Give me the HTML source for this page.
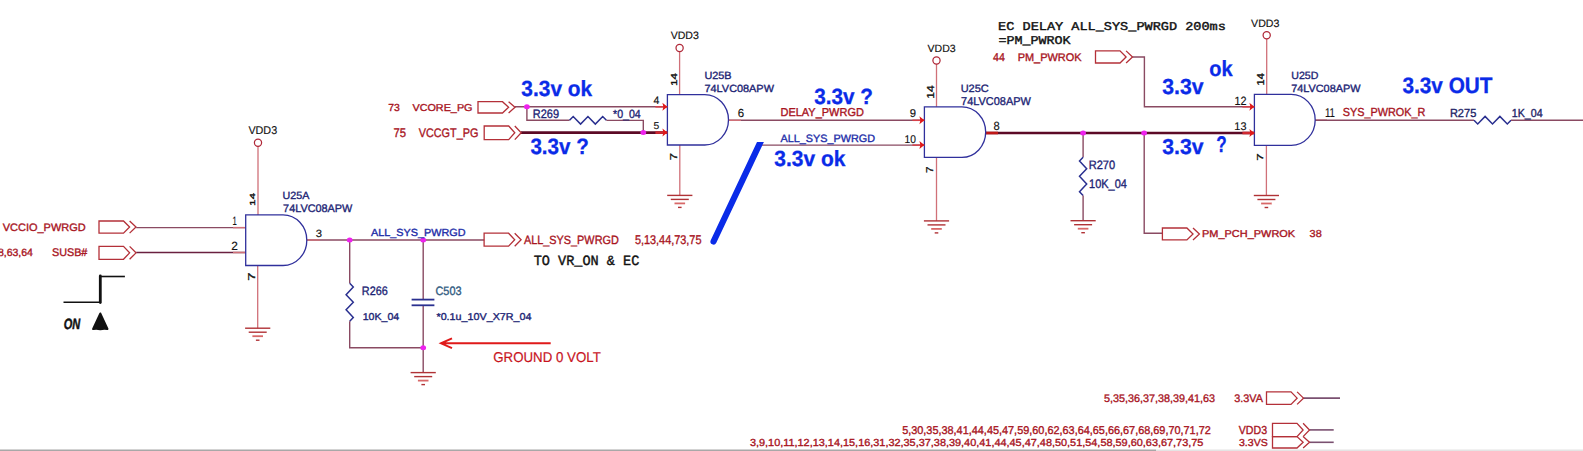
<!DOCTYPE html>
<html><head><meta charset="utf-8"><style>html,body{margin:0;padding:0;background:#fff;overflow:hidden}svg{display:block} text{text-rendering:geometricPrecision}</style></head>
<body><svg width="1583" height="451" viewBox="0 0 1583 451">
<rect width="1583" height="451" fill="#fff"/>
<line x1="136.2" y1="227.6" x2="245.7" y2="227.6" stroke="#8a4a62" stroke-width="1.4"/>
<line x1="233" y1="227.6" x2="245.7" y2="227.6" stroke="#d07078" stroke-width="1.4"/>
<line x1="136.2" y1="252.5" x2="245.7" y2="252.5" stroke="#6a2040" stroke-width="1.4"/>
<line x1="233" y1="252.5" x2="245.7" y2="252.5" stroke="#d07078" stroke-width="1.4"/>
<line x1="306.8" y1="240" x2="484.2" y2="240" stroke="#8a4a62" stroke-width="1.4"/>
<line x1="306.8" y1="240" x2="320" y2="240" stroke="#d07078" stroke-width="1.4"/>
<polyline points="349.70,240.00 349.70,283.30" fill="none" stroke="#8a4a62" stroke-width="1.4" stroke-linejoin="miter"/>
<polyline points="349.70,283.30 353.30,287.09 346.10,294.67 353.30,302.25 346.10,309.83 353.30,317.41 349.70,321.20" fill="none" stroke="#2a3090" stroke-width="1.5" stroke-linejoin="miter"/>
<polyline points="349.70,321.20 349.70,347.70 423.20,347.70" fill="none" stroke="#8a4a62" stroke-width="1.4" stroke-linejoin="miter"/>
<line x1="423.2" y1="240" x2="423.2" y2="299.6" stroke="#8a4a62" stroke-width="1.4"/>
<line x1="423.2" y1="305.3" x2="423.2" y2="372.6" stroke="#8a4a62" stroke-width="1.4"/>
<line x1="411.6" y1="299.6" x2="434.4" y2="299.6" stroke="#2a3090" stroke-width="1.8"/>
<line x1="411.6" y1="305.3" x2="434.4" y2="305.3" stroke="#2a3090" stroke-width="1.8"/>
<line x1="515" y1="106.8" x2="667.4" y2="106.8" stroke="#8a4a62" stroke-width="1.4"/>
<polyline points="526.90,106.80 526.90,120.30 569.50,120.30" fill="none" stroke="#8a4a62" stroke-width="1.4" stroke-linejoin="miter"/>
<polyline points="569.50,120.30 573.19,116.50 580.57,124.10 587.95,116.50 595.33,124.10 602.71,116.50 606.40,120.30" fill="none" stroke="#2a3090" stroke-width="1.5" stroke-linejoin="miter"/>
<polyline points="606.40,120.40 643.30,120.40 643.30,132.60" fill="none" stroke="#8a4a62" stroke-width="1.4" stroke-linejoin="miter"/>
<line x1="521" y1="132.6" x2="667.4" y2="132.6" stroke="#5c0a26" stroke-width="2.6"/>
<line x1="728.5" y1="120.3" x2="924.4" y2="120.3" stroke="#8a4a62" stroke-width="1.4"/>
<line x1="762" y1="145.1" x2="924.4" y2="145.1" stroke="#8a4a62" stroke-width="1.4"/>
<line x1="985.7" y1="133" x2="1254.4" y2="133" stroke="#5c0a26" stroke-width="2.6"/>
<line x1="985.7" y1="133" x2="998" y2="133" stroke="#c01818" stroke-width="2.6"/>
<line x1="728.5" y1="120.3" x2="741" y2="120.3" stroke="#d07078" stroke-width="1.4"/>
<line x1="1315.2" y1="120.2" x2="1327" y2="120.2" stroke="#d07078" stroke-width="1.4"/>
<line x1="1083.1" y1="133" x2="1083.1" y2="157.2" stroke="#8a4a62" stroke-width="1.4"/>
<polyline points="1083.10,157.20 1079.50,161.03 1086.70,168.69 1079.50,176.35 1086.70,184.01 1079.50,191.67 1083.10,195.50" fill="none" stroke="#2a3090" stroke-width="1.5" stroke-linejoin="miter"/>
<line x1="1083.1" y1="195.5" x2="1083.1" y2="220.7" stroke="#8a4a62" stroke-width="1.4"/>
<polyline points="1132.30,57.00 1144.40,57.00 1144.40,106.80 1254.40,106.80" fill="none" stroke="#8a4a62" stroke-width="1.4" stroke-linejoin="miter"/>
<polyline points="1144.20,133.00 1144.20,233.30 1162.40,233.30" fill="none" stroke="#8a4a62" stroke-width="1.4" stroke-linejoin="miter"/>
<line x1="1315.2" y1="120.2" x2="1474" y2="120.2" stroke="#8a4a62" stroke-width="1.4"/>
<polyline points="1474.00,120.20 1477.70,124.00 1485.10,116.40 1492.50,124.00 1499.90,116.40 1507.30,124.00 1511.00,120.20" fill="none" stroke="#2a3090" stroke-width="1.5" stroke-linejoin="miter"/>
<line x1="1511" y1="120.2" x2="1583" y2="120.2" stroke="#8a4a62" stroke-width="1.4"/>
<line x1="1303.2" y1="398.1" x2="1340" y2="398.1" stroke="#7a5070" stroke-width="1.8"/>
<line x1="1309.4" y1="429.9" x2="1333.7" y2="429.9" stroke="#7a5070" stroke-width="1.6"/>
<line x1="1309.4" y1="442.3" x2="1333.7" y2="442.3" stroke="#7a5070" stroke-width="1.6"/>
<line x1="257.7" y1="265.5" x2="257.7" y2="328.2" stroke="#d07078" stroke-width="1.3"/>
<line x1="679.8" y1="145" x2="679.8" y2="195.4" stroke="#d07078" stroke-width="1.3"/>
<line x1="936.5" y1="157.4" x2="936.5" y2="220.9" stroke="#d07078" stroke-width="1.3"/>
<line x1="1266.4" y1="145.4" x2="1266.4" y2="195.5" stroke="#d07078" stroke-width="1.3"/>
<line x1="245.10" y1="328.20" x2="270.30" y2="328.20" stroke="#b03236" stroke-width="1.4"/><line x1="248.70" y1="332.20" x2="266.70" y2="332.20" stroke="#b03236" stroke-width="1.4"/><line x1="252.40" y1="336.20" x2="263.00" y2="336.20" stroke="#d86868" stroke-width="1.8"/><line x1="255.90" y1="340.20" x2="259.50" y2="340.20" stroke="#b03236" stroke-width="1.4"/>
<line x1="667.20" y1="195.40" x2="692.40" y2="195.40" stroke="#b03236" stroke-width="1.4"/><line x1="670.80" y1="199.40" x2="688.80" y2="199.40" stroke="#b03236" stroke-width="1.4"/><line x1="674.50" y1="203.40" x2="685.10" y2="203.40" stroke="#d86868" stroke-width="1.8"/><line x1="678.00" y1="207.40" x2="681.60" y2="207.40" stroke="#b03236" stroke-width="1.4"/>
<line x1="923.90" y1="220.90" x2="949.10" y2="220.90" stroke="#b03236" stroke-width="1.4"/><line x1="927.50" y1="224.90" x2="945.50" y2="224.90" stroke="#b03236" stroke-width="1.4"/><line x1="931.20" y1="228.90" x2="941.80" y2="228.90" stroke="#d86868" stroke-width="1.8"/><line x1="934.70" y1="232.90" x2="938.30" y2="232.90" stroke="#b03236" stroke-width="1.4"/>
<line x1="1253.80" y1="195.50" x2="1279.00" y2="195.50" stroke="#b03236" stroke-width="1.4"/><line x1="1257.40" y1="199.50" x2="1275.40" y2="199.50" stroke="#b03236" stroke-width="1.4"/><line x1="1261.10" y1="203.50" x2="1271.70" y2="203.50" stroke="#d86868" stroke-width="1.8"/><line x1="1264.60" y1="207.50" x2="1268.20" y2="207.50" stroke="#b03236" stroke-width="1.4"/>
<line x1="410.60" y1="372.60" x2="435.80" y2="372.60" stroke="#b03236" stroke-width="1.4"/><line x1="414.20" y1="376.60" x2="432.20" y2="376.60" stroke="#b03236" stroke-width="1.4"/><line x1="417.90" y1="380.60" x2="428.50" y2="380.60" stroke="#d86868" stroke-width="1.8"/><line x1="421.40" y1="384.60" x2="425.00" y2="384.60" stroke="#b03236" stroke-width="1.4"/>
<line x1="1070.50" y1="220.70" x2="1095.70" y2="220.70" stroke="#b03236" stroke-width="1.4"/><line x1="1074.10" y1="224.70" x2="1092.10" y2="224.70" stroke="#b03236" stroke-width="1.4"/><line x1="1077.80" y1="228.70" x2="1088.40" y2="228.70" stroke="#d86868" stroke-width="1.8"/><line x1="1081.30" y1="232.70" x2="1084.90" y2="232.70" stroke="#b03236" stroke-width="1.4"/>
<line x1="258.0" y1="146.30" x2="258.0" y2="214.9" stroke="#d07078" stroke-width="1.3"/><circle cx="258.0" cy="142.7" r="3.6" fill="none" stroke="#b02838" stroke-width="1.25"/>
<line x1="679.6" y1="51.50" x2="679.6" y2="94.6" stroke="#d07078" stroke-width="1.3"/><circle cx="679.6" cy="47.9" r="3.6" fill="none" stroke="#b02838" stroke-width="1.25"/>
<line x1="936.5" y1="64.10" x2="936.5" y2="106.8" stroke="#d07078" stroke-width="1.3"/><circle cx="936.5" cy="60.5" r="3.6" fill="none" stroke="#b02838" stroke-width="1.25"/>
<line x1="1266.7" y1="38.90" x2="1266.7" y2="94.4" stroke="#d07078" stroke-width="1.3"/><circle cx="1266.7" cy="35.3" r="3.6" fill="none" stroke="#b02838" stroke-width="1.25"/>
<path d="M245.7,214.9 H283.02 A23.78,25.30 0 0 1 283.02,265.5 H245.7 Z" fill="none" stroke="#30309c" stroke-width="1.3"/>
<path d="M667.4,94.6 H704.81 A23.69,25.20 0 0 1 704.81,145.0 H667.4 Z" fill="none" stroke="#30309c" stroke-width="1.3"/>
<path d="M924.4,106.8 H961.92 A23.78,25.30 0 0 1 961.92,157.4 H924.4 Z" fill="none" stroke="#30309c" stroke-width="1.3"/>
<path d="M1254.4,94.4 H1291.23 A23.97,25.50 0 0 1 1291.23,145.4 H1254.4 Z" fill="none" stroke="#30309c" stroke-width="1.3"/>
<line x1="655.4" y1="106.8" x2="667.4" y2="106.8" stroke="#d84048" stroke-width="1.5"/><path d="M662.40,102.80 L667.40,106.80 L662.40,110.80 L663.40,106.80 Z" fill="#e01818"/>
<line x1="655.4" y1="132.6" x2="667.4" y2="132.6" stroke="#d02830" stroke-width="2.6"/><path d="M662.40,128.60 L667.40,132.60 L662.40,136.60 L663.40,132.60 Z" fill="#e01818"/>
<line x1="912.4" y1="120.3" x2="924.4" y2="120.3" stroke="#d84048" stroke-width="1.5"/><path d="M919.40,116.30 L924.40,120.30 L919.40,124.30 L920.40,120.30 Z" fill="#e01818"/>
<line x1="912.4" y1="145.1" x2="924.4" y2="145.1" stroke="#d84048" stroke-width="1.5"/><path d="M919.40,141.10 L924.40,145.10 L919.40,149.10 L920.40,145.10 Z" fill="#e01818"/>
<line x1="1242.4" y1="106.8" x2="1254.4" y2="106.8" stroke="#d84048" stroke-width="1.5"/><path d="M1249.40,102.80 L1254.40,106.80 L1249.40,110.80 L1250.40,106.80 Z" fill="#e01818"/>
<line x1="1242.4" y1="133" x2="1254.4" y2="133" stroke="#d02830" stroke-width="2.6"/><path d="M1249.40,129.00 L1254.40,133.00 L1249.40,137.00 L1250.40,133.00 Z" fill="#e01818"/>
<path d="M99,221 H123.50 L129.60,227.05 L123.50,233.1 H99 Z" fill="none" stroke="#b43038" stroke-width="1.3"/><path d="M129.60,221 L136.00,227.05 L129.60,233.1" fill="none" stroke="#b43038" stroke-width="1.3"/>
<path d="M99,246.4 H123.50 L129.60,252.85 L123.50,259.3 H99 Z" fill="none" stroke="#b43038" stroke-width="1.3"/><path d="M129.60,246.4 L136.00,252.85 L129.60,259.3" fill="none" stroke="#b43038" stroke-width="1.3"/>
<path d="M478,101.7 H502.50 L508.60,107.35 L502.50,113 H478 Z" fill="none" stroke="#b43038" stroke-width="1.3"/><path d="M508.60,101.7 L515.00,107.35 L508.60,113" fill="none" stroke="#b43038" stroke-width="1.3"/>
<path d="M484.2,126 H508.70 L514.80,132.80 L508.70,139.6 H484.2 Z" fill="none" stroke="#b43038" stroke-width="1.3"/><path d="M514.80,126 L521.20,132.80 L514.80,139.6" fill="none" stroke="#b43038" stroke-width="1.3"/>
<path d="M484.1,233.2 H508.60 L514.70,239.70 L508.60,246.2 H484.1 Z" fill="none" stroke="#b43038" stroke-width="1.3"/><path d="M514.70,233.2 L521.10,239.70 L514.70,246.2" fill="none" stroke="#b43038" stroke-width="1.3"/>
<path d="M1095.5,50.9 H1120.00 L1126.10,56.95 L1120.00,63 H1095.5 Z" fill="none" stroke="#b43038" stroke-width="1.3"/><path d="M1126.10,50.9 L1132.50,56.95 L1126.10,63" fill="none" stroke="#b43038" stroke-width="1.3"/>
<path d="M1162.4,228 H1186.90 L1193.00,233.95 L1186.90,239.9 H1162.4 Z" fill="none" stroke="#b43038" stroke-width="1.3"/><path d="M1193.00,228 L1199.40,233.95 L1193.00,239.9" fill="none" stroke="#b43038" stroke-width="1.3"/>
<path d="M1266.5,391.9 H1291.00 L1297.10,398.15 L1291.00,404.4 H1266.5 Z" fill="none" stroke="#b43038" stroke-width="1.3"/><path d="M1297.10,391.9 L1303.50,398.15 L1297.10,404.4" fill="none" stroke="#b43038" stroke-width="1.3"/>
<path d="M1272.5,423.3 H1297.00 L1303.10,429.95 L1297.00,436.6 H1272.5 Z" fill="none" stroke="#b43038" stroke-width="1.3"/><path d="M1303.10,423.3 L1309.50,429.95 L1303.10,436.6" fill="none" stroke="#b43038" stroke-width="1.3"/>
<path d="M1272.5,436.6 H1297.00 L1303.10,442.30 L1297.00,448 H1272.5 Z" fill="none" stroke="#b43038" stroke-width="1.3"/><path d="M1303.10,436.6 L1309.50,442.30 L1303.10,448" fill="none" stroke="#b43038" stroke-width="1.3"/>
<ellipse cx="349.7" cy="240" rx="2.9" ry="2.5" fill="#ee22ee"/>
<ellipse cx="423.2" cy="240" rx="2.9" ry="2.5" fill="#ee22ee"/>
<ellipse cx="423.2" cy="347.7" rx="2.9" ry="2.5" fill="#ee22ee"/>
<ellipse cx="526.9" cy="106.8" rx="2.9" ry="2.5" fill="#ee22ee"/>
<ellipse cx="643.3" cy="132.6" rx="2.9" ry="2.5" fill="#ee22ee"/>
<ellipse cx="1083.1" cy="133" rx="2.9" ry="2.5" fill="#ee22ee"/>
<ellipse cx="1144.1" cy="133" rx="2.9" ry="2.5" fill="#ee22ee"/>
<path d="M757,142 L763.9,142 L716.2,243.1 A3.1,3.1 0 0 1 710.6,240.5 Z" fill="#0a2be8"/>
<path d="M550.7,343.3 H441.5 M452,338.4 L441,343.3 L452,348.2" fill="none" stroke="#e01a1a" stroke-width="2"/>
<path d="M63.5,302.2 H100" stroke="#111" stroke-width="1.6" fill="none"/>
<path d="M100,276.5 H124.9" stroke="#111" stroke-width="1.6" fill="none"/>
<path d="M100.3,276 V302.5" stroke="#111" stroke-width="2.8" stroke-linecap="round" fill="none"/>
<path d="M100.3,313.6 L107.4,329 Q104,328.2 100.3,329.2 Q96.6,328.2 93.2,329 Z" fill="#111" stroke="#111" stroke-width="2.2" stroke-linejoin="round"/>
<rect x="0" y="449.5" width="1156" height="1.5" fill="#a8a8a8"/><rect x="1156" y="449.5" width="427" height="1.5" fill="#e4e4e4"/>
<text x="2.69" y="230.80" font-family='"Liberation Sans", sans-serif' font-weight="normal" font-style="normal" font-size="10.78" fill="#a8141e" textLength="83.02" lengthAdjust="spacingAndGlyphs" xml:space="preserve" stroke="#a8141e" stroke-width="0.35">VCCIO_PWRGD</text>
<text x="-2.11" y="255.80" font-family='"Liberation Sans", sans-serif' font-weight="normal" font-style="normal" font-size="10.50" fill="#a8141e" textLength="35.00" lengthAdjust="spacingAndGlyphs" xml:space="preserve" stroke="#a8141e" stroke-width="0.35">8,63,64</text>
<text x="51.96" y="255.80" font-family='"Liberation Sans", sans-serif' font-weight="normal" font-style="normal" font-size="11.04" fill="#a8141e" textLength="35.38" lengthAdjust="spacingAndGlyphs" xml:space="preserve" stroke="#a8141e" stroke-width="0.35">SUSB#</text>
<text x="388.22" y="110.90" font-family='"Liberation Sans", sans-serif' font-weight="normal" font-style="normal" font-size="10.23" fill="#a8141e" textLength="11.57" lengthAdjust="spacingAndGlyphs" xml:space="preserve" stroke="#a8141e" stroke-width="0.35">73</text>
<text x="412.44" y="110.90" font-family='"Liberation Sans", sans-serif' font-weight="normal" font-style="normal" font-size="10.01" fill="#a8141e" textLength="60.07" lengthAdjust="spacingAndGlyphs" xml:space="preserve" stroke="#a8141e" stroke-width="0.35">VCORE_PG</text>
<text x="393.56" y="137.10" font-family='"Liberation Sans", sans-serif' font-weight="normal" font-style="normal" font-size="12.58" fill="#a8141e" textLength="12.59" lengthAdjust="spacingAndGlyphs" xml:space="preserve" stroke="#a8141e" stroke-width="0.35">75</text>
<text x="418.73" y="137.10" font-family='"Liberation Sans", sans-serif' font-weight="normal" font-style="normal" font-size="12.40" fill="#a8141e" textLength="59.65" lengthAdjust="spacingAndGlyphs" xml:space="preserve" stroke="#a8141e" stroke-width="0.35">VCCGT_PG</text>
<text x="523.92" y="243.90" font-family='"Liberation Sans", sans-serif' font-weight="normal" font-style="normal" font-size="11.95" fill="#a8141e" textLength="94.90" lengthAdjust="spacingAndGlyphs" xml:space="preserve" stroke="#a8141e" stroke-width="0.35">ALL_SYS_PWRGD</text>
<text x="634.90" y="243.80" font-family='"Liberation Sans", sans-serif' font-weight="normal" font-style="normal" font-size="12.71" fill="#a8141e" textLength="66.59" lengthAdjust="spacingAndGlyphs" xml:space="preserve" stroke="#a8141e" stroke-width="0.35">5,13,44,73,75</text>
<text x="780.54" y="115.90" font-family='"Liberation Sans", sans-serif' font-weight="normal" font-style="normal" font-size="11.47" fill="#a8141e" textLength="83.32" lengthAdjust="spacingAndGlyphs" xml:space="preserve" stroke="#a8141e" stroke-width="0.35">DELAY_PWRGD</text>
<text x="993.01" y="60.70" font-family='"Liberation Sans", sans-serif' font-weight="normal" font-style="normal" font-size="11.35" fill="#a8141e" textLength="11.81" lengthAdjust="spacingAndGlyphs" xml:space="preserve" stroke="#a8141e" stroke-width="0.35">44</text>
<text x="1017.68" y="60.80" font-family='"Liberation Sans", sans-serif' font-weight="normal" font-style="normal" font-size="11.07" fill="#a8141e" textLength="63.84" lengthAdjust="spacingAndGlyphs" xml:space="preserve" stroke="#a8141e" stroke-width="0.35">PM_PWROK</text>
<text x="1202.07" y="236.70" font-family='"Liberation Sans", sans-serif' font-weight="normal" font-style="normal" font-size="9.96" fill="#a8141e" textLength="93.07" lengthAdjust="spacingAndGlyphs" xml:space="preserve" stroke="#a8141e" stroke-width="0.35">PM_PCH_PWROK</text>
<text x="1309.62" y="236.70" font-family='"Liberation Sans", sans-serif' font-weight="normal" font-style="normal" font-size="10.18" fill="#a8141e" textLength="12.12" lengthAdjust="spacingAndGlyphs" xml:space="preserve" stroke="#a8141e" stroke-width="0.35">38</text>
<text x="1342.68" y="116.20" font-family='"Liberation Sans", sans-serif' font-weight="normal" font-style="normal" font-size="11.66" fill="#a8141e" textLength="82.75" lengthAdjust="spacingAndGlyphs" xml:space="preserve" stroke="#a8141e" stroke-width="0.35">SYS_PWROK_R</text>
<text x="1104.10" y="401.80" font-family='"Liberation Sans", sans-serif' font-weight="normal" font-style="normal" font-size="11.02" fill="#a8141e" textLength="111.04" lengthAdjust="spacingAndGlyphs" xml:space="preserve" stroke="#a8141e" stroke-width="0.35">5,35,36,37,38,39,41,63</text>
<text x="1234.23" y="401.80" font-family='"Liberation Sans", sans-serif' font-weight="normal" font-style="normal" font-size="10.97" fill="#a8141e" textLength="28.68" lengthAdjust="spacingAndGlyphs" xml:space="preserve" stroke="#a8141e" stroke-width="0.35">3.3VA</text>
<text x="902.16" y="433.60" font-family='"Liberation Sans", sans-serif' font-weight="normal" font-style="normal" font-size="11.34" fill="#a8141e" textLength="308.66" lengthAdjust="spacingAndGlyphs" xml:space="preserve" stroke="#a8141e" stroke-width="0.35">5,30,35,38,41,44,45,47,59,60,62,63,64,65,66,67,68,69,70,71,72</text>
<text x="1238.77" y="433.60" font-family='"Liberation Sans", sans-serif' font-weight="normal" font-style="normal" font-size="11.66" fill="#a8141e" textLength="28.28" lengthAdjust="spacingAndGlyphs" xml:space="preserve" stroke="#a8141e" stroke-width="0.35">VDD3</text>
<text x="749.93" y="446.00" font-family='"Liberation Sans", sans-serif' font-weight="normal" font-style="normal" font-size="10.23" fill="#a8141e" textLength="453.44" lengthAdjust="spacingAndGlyphs" xml:space="preserve" stroke="#a8141e" stroke-width="0.35">3,9,10,11,12,13,14,15,16,31,32,35,37,38,39,40,41,44,45,47,48,50,51,54,58,59,60,63,67,73,75</text>
<text x="1238.98" y="446.00" font-family='"Liberation Sans", sans-serif' font-weight="normal" font-style="normal" font-size="10.15" fill="#a8141e" textLength="28.74" lengthAdjust="spacingAndGlyphs" xml:space="preserve" stroke="#a8141e" stroke-width="0.35">3.3VS</text>
<text x="248.38" y="134.40" font-family='"Liberation Sans", sans-serif' font-weight="normal" font-style="normal" font-size="11.32" fill="#111111" textLength="28.78" lengthAdjust="spacingAndGlyphs" xml:space="preserve" stroke="#111111" stroke-width="0.15">VDD3</text>
<text x="670.69" y="39.20" font-family='"Liberation Sans", sans-serif' font-weight="normal" font-style="normal" font-size="10.64" fill="#111111" textLength="28.15" lengthAdjust="spacingAndGlyphs" xml:space="preserve" stroke="#111111" stroke-width="0.15">VDD3</text>
<text x="927.56" y="52.30" font-family='"Liberation Sans", sans-serif' font-weight="normal" font-style="normal" font-size="10.52" fill="#111111" textLength="28.12" lengthAdjust="spacingAndGlyphs" xml:space="preserve" stroke="#111111" stroke-width="0.15">VDD3</text>
<text x="1251.08" y="27.20" font-family='"Liberation Sans", sans-serif' font-weight="normal" font-style="normal" font-size="10.63" fill="#111111" textLength="28.29" lengthAdjust="spacingAndGlyphs" xml:space="preserve" stroke="#111111" stroke-width="0.15">VDD3</text>
<text x="232.39" y="225.00" font-family='"Liberation Sans", sans-serif' font-weight="normal" font-style="normal" font-size="12.10" fill="#111111" textLength="4.29" lengthAdjust="spacingAndGlyphs" xml:space="preserve" stroke="#111111" stroke-width="0.15">1</text>
<text x="231.20" y="249.80" font-family='"Liberation Sans", sans-serif' font-weight="normal" font-style="normal" font-size="11.98" fill="#111111" textLength="6.63" lengthAdjust="spacingAndGlyphs" xml:space="preserve" stroke="#111111" stroke-width="0.15">2</text>
<text x="315.88" y="237.00" font-family='"Liberation Sans", sans-serif' font-weight="normal" font-style="normal" font-size="10.48" fill="#111111" textLength="6.27" lengthAdjust="spacingAndGlyphs" xml:space="preserve" stroke="#111111" stroke-width="0.15">3</text>
<text x="653.43" y="104.20" font-family='"Liberation Sans", sans-serif' font-weight="normal" font-style="normal" font-size="10.75" fill="#111111" textLength="5.87" lengthAdjust="spacingAndGlyphs" xml:space="preserve" stroke="#111111" stroke-width="0.15">4</text>
<text x="653.52" y="129.40" font-family='"Liberation Sans", sans-serif' font-weight="normal" font-style="normal" font-size="9.92" fill="#111111" textLength="5.73" lengthAdjust="spacingAndGlyphs" xml:space="preserve" stroke="#111111" stroke-width="0.15">5</text>
<text x="737.76" y="117.20" font-family='"Liberation Sans", sans-serif' font-weight="normal" font-style="normal" font-size="11.67" fill="#111111" textLength="6.36" lengthAdjust="spacingAndGlyphs" xml:space="preserve" stroke="#111111" stroke-width="0.15">6</text>
<text x="909.82" y="117.30" font-family='"Liberation Sans", sans-serif' font-weight="normal" font-style="normal" font-size="11.24" fill="#111111" textLength="6.26" lengthAdjust="spacingAndGlyphs" xml:space="preserve" stroke="#111111" stroke-width="0.15">9</text>
<text x="904.55" y="142.60" font-family='"Liberation Sans", sans-serif' font-weight="normal" font-style="normal" font-size="11.26" fill="#111111" textLength="11.38" lengthAdjust="spacingAndGlyphs" xml:space="preserve" stroke="#111111" stroke-width="0.15">10</text>
<text x="993.58" y="129.50" font-family='"Liberation Sans", sans-serif' font-weight="normal" font-style="normal" font-size="11.94" fill="#111111" textLength="6.20" lengthAdjust="spacingAndGlyphs" xml:space="preserve" stroke="#111111" stroke-width="0.15">8</text>
<text x="1234.50" y="104.60" font-family='"Liberation Sans", sans-serif' font-weight="normal" font-style="normal" font-size="12.02" fill="#111111" textLength="12.07" lengthAdjust="spacingAndGlyphs" xml:space="preserve" stroke="#111111" stroke-width="0.15">12</text>
<text x="1234.36" y="129.80" font-family='"Liberation Sans", sans-serif' font-weight="normal" font-style="normal" font-size="11.03" fill="#111111" textLength="12.12" lengthAdjust="spacingAndGlyphs" xml:space="preserve" stroke="#111111" stroke-width="0.15">13</text>
<text x="1324.90" y="116.90" font-family='"Liberation Sans", sans-serif' font-weight="normal" font-style="normal" font-size="12.79" fill="#111111" textLength="10.06" lengthAdjust="spacingAndGlyphs" xml:space="preserve" stroke="#111111" stroke-width="0.15">11</text>
<text x="282.51" y="199.20" font-family='"Liberation Sans", sans-serif' font-weight="normal" font-style="normal" font-size="10.44" fill="#1c2474" textLength="26.86" lengthAdjust="spacingAndGlyphs" xml:space="preserve" stroke="#1c2474" stroke-width="0.35">U25A</text>
<text x="283.10" y="212.20" font-family='"Liberation Sans", sans-serif' font-weight="normal" font-style="normal" font-size="11.01" fill="#1c2474" textLength="69.28" lengthAdjust="spacingAndGlyphs" xml:space="preserve" stroke="#1c2474" stroke-width="0.35">74LVC08APW</text>
<text x="704.44" y="79.00" font-family='"Liberation Sans", sans-serif' font-weight="normal" font-style="normal" font-size="10.45" fill="#1c2474" textLength="27.16" lengthAdjust="spacingAndGlyphs" xml:space="preserve" stroke="#1c2474" stroke-width="0.35">U25B</text>
<text x="704.51" y="91.90" font-family='"Liberation Sans", sans-serif' font-weight="normal" font-style="normal" font-size="10.42" fill="#1c2474" textLength="69.42" lengthAdjust="spacingAndGlyphs" xml:space="preserve" stroke="#1c2474" stroke-width="0.35">74LVC08APW</text>
<text x="960.67" y="92.30" font-family='"Liberation Sans", sans-serif' font-weight="normal" font-style="normal" font-size="10.67" fill="#1c2474" textLength="28.09" lengthAdjust="spacingAndGlyphs" xml:space="preserve" stroke="#1c2474" stroke-width="0.35">U25C</text>
<text x="961.10" y="104.60" font-family='"Liberation Sans", sans-serif' font-weight="normal" font-style="normal" font-size="11.36" fill="#1c2474" textLength="69.79" lengthAdjust="spacingAndGlyphs" xml:space="preserve" stroke="#1c2474" stroke-width="0.35">74LVC08APW</text>
<text x="1291.22" y="79.00" font-family='"Liberation Sans", sans-serif' font-weight="normal" font-style="normal" font-size="10.44" fill="#1c2474" textLength="27.12" lengthAdjust="spacingAndGlyphs" xml:space="preserve" stroke="#1c2474" stroke-width="0.35">U25D</text>
<text x="1291.18" y="91.90" font-family='"Liberation Sans", sans-serif' font-weight="normal" font-style="normal" font-size="10.53" fill="#1c2474" textLength="69.27" lengthAdjust="spacingAndGlyphs" xml:space="preserve" stroke="#1c2474" stroke-width="0.35">74LVC08APW</text>
<text x="370.93" y="235.90" font-family='"Liberation Sans", sans-serif' font-weight="normal" font-style="normal" font-size="10.36" fill="#1c2ca8" textLength="94.57" lengthAdjust="spacingAndGlyphs" xml:space="preserve" stroke="#1c2ca8" stroke-width="0.35">ALL_SYS_PWRGD</text>
<text x="780.58" y="141.60" font-family='"Liberation Sans", sans-serif' font-weight="normal" font-style="normal" font-size="10.71" fill="#1c2ca8" textLength="94.48" lengthAdjust="spacingAndGlyphs" xml:space="preserve" stroke="#1c2ca8" stroke-width="0.35">ALL_SYS_PWRGD</text>
<text x="361.81" y="294.50" font-family='"Liberation Sans", sans-serif' font-weight="normal" font-style="normal" font-size="12.20" fill="#1c2474" textLength="25.93" lengthAdjust="spacingAndGlyphs" xml:space="preserve" stroke="#1c2474" stroke-width="0.35">R266</text>
<text x="362.74" y="319.50" font-family='"Liberation Sans", sans-serif' font-weight="normal" font-style="normal" font-size="9.98" fill="#1c2474" textLength="36.51" lengthAdjust="spacingAndGlyphs" xml:space="preserve" stroke="#1c2474" stroke-width="0.35">10K_04</text>
<text x="435.45" y="294.50" font-family='"Liberation Sans", sans-serif' font-weight="normal" font-style="normal" font-size="12.15" fill="#2f5a80" textLength="26.07" lengthAdjust="spacingAndGlyphs" xml:space="preserve" stroke="#2f5a80" stroke-width="0.35">C503</text>
<text x="436.46" y="319.50" font-family='"Liberation Sans", sans-serif' font-weight="normal" font-style="normal" font-size="9.98" fill="#1c2474" textLength="95.11" lengthAdjust="spacingAndGlyphs" xml:space="preserve" stroke="#1c2474" stroke-width="0.35">*0.1u_10V_X7R_04</text>
<text x="532.84" y="117.70" font-family='"Liberation Sans", sans-serif' font-weight="normal" font-style="normal" font-size="12.22" fill="#1c2474" textLength="26.19" lengthAdjust="spacingAndGlyphs" xml:space="preserve" stroke="#1c2474" stroke-width="0.35">R269</text>
<text x="613.02" y="117.70" font-family='"Liberation Sans", sans-serif' font-weight="normal" font-style="normal" font-size="11.81" fill="#1c2474" textLength="27.74" lengthAdjust="spacingAndGlyphs" xml:space="preserve" stroke="#1c2474" stroke-width="0.35">*0_04</text>
<text x="1088.72" y="169.20" font-family='"Liberation Sans", sans-serif' font-weight="normal" font-style="normal" font-size="12.13" fill="#1c2474" textLength="26.45" lengthAdjust="spacingAndGlyphs" xml:space="preserve" stroke="#1c2474" stroke-width="0.35">R270</text>
<text x="1089.04" y="188.40" font-family='"Liberation Sans", sans-serif' font-weight="normal" font-style="normal" font-size="12.43" fill="#1c2474" textLength="37.80" lengthAdjust="spacingAndGlyphs" xml:space="preserve" stroke="#1c2474" stroke-width="0.35">10K_04</text>
<text x="1449.91" y="117.30" font-family='"Liberation Sans", sans-serif' font-weight="normal" font-style="normal" font-size="11.65" fill="#1c2266" textLength="26.37" lengthAdjust="spacingAndGlyphs" xml:space="preserve" stroke="#1c2266" stroke-width="0.35">R275</text>
<text x="1511.75" y="117.30" font-family='"Liberation Sans", sans-serif' font-weight="normal" font-style="normal" font-size="11.59" fill="#1c2266" textLength="30.86" lengthAdjust="spacingAndGlyphs" xml:space="preserve" stroke="#1c2266" stroke-width="0.35">1K_04</text>
<text x="521.35" y="96.00" font-family='"Liberation Sans", sans-serif' font-weight="bold" font-style="normal" font-size="21.94" fill="#0a2be8" textLength="70.85" lengthAdjust="spacingAndGlyphs" xml:space="preserve" stroke="#0a2be8" stroke-width="0.3">3.3v ok</text>
<text x="530.38" y="153.70" font-family='"Liberation Sans", sans-serif' font-weight="bold" font-style="normal" font-size="22.35" fill="#0a2be8" textLength="58.33" lengthAdjust="spacingAndGlyphs" xml:space="preserve" stroke="#0a2be8" stroke-width="0.3">3.3v ?</text>
<text x="814.13" y="103.90" font-family='"Liberation Sans", sans-serif' font-weight="bold" font-style="normal" font-size="22.14" fill="#0a2be8" textLength="58.74" lengthAdjust="spacingAndGlyphs" xml:space="preserve" stroke="#0a2be8" stroke-width="0.3">3.3v ?</text>
<text x="774.34" y="166.00" font-family='"Liberation Sans", sans-serif' font-weight="bold" font-style="normal" font-size="21.94" fill="#0a2be8" textLength="71.04" lengthAdjust="spacingAndGlyphs" xml:space="preserve" stroke="#0a2be8" stroke-width="0.3">3.3v ok</text>
<text x="1162.30" y="93.90" font-family='"Liberation Sans", sans-serif' font-weight="bold" font-style="normal" font-size="21.74" fill="#0a2be8" textLength="41.37" lengthAdjust="spacingAndGlyphs" xml:space="preserve" stroke="#0a2be8" stroke-width="0.3">3.3v</text>
<text x="1209.21" y="75.70" font-family='"Liberation Sans", sans-serif' font-weight="bold" font-style="normal" font-size="21.97" fill="#0a2be8" textLength="23.37" lengthAdjust="spacingAndGlyphs" xml:space="preserve" stroke="#0a2be8" stroke-width="0.3">ok</text>
<text x="1162.27" y="153.90" font-family='"Liberation Sans", sans-serif' font-weight="bold" font-style="normal" font-size="21.66" fill="#0a2be8" textLength="41.27" lengthAdjust="spacingAndGlyphs" xml:space="preserve" stroke="#0a2be8" stroke-width="0.3">3.3v</text>
<text x="1216.28" y="151.60" font-family='"Liberation Sans", sans-serif' font-weight="bold" font-style="normal" font-size="22.76" fill="#0a2be8" textLength="10.46" lengthAdjust="spacingAndGlyphs" xml:space="preserve" stroke="#0a2be8" stroke-width="0.3">?</text>
<text x="1402.46" y="93.00" font-family='"Liberation Sans", sans-serif' font-weight="bold" font-style="normal" font-size="22.36" fill="#0a2be8" textLength="90.11" lengthAdjust="spacingAndGlyphs" xml:space="preserve" stroke="#0a2be8" stroke-width="0.3">3.3v OUT</text>
<text x="998.10" y="30.30" font-family='"Liberation Mono", monospace' font-weight="normal" font-style="normal" font-size="11.86" fill="#111111" textLength="227.78" lengthAdjust="spacingAndGlyphs" xml:space="preserve" stroke="#111111" stroke-width="0.4">EC DELAY ALL_SYS_PWRGD 200ms</text>
<text x="998.44" y="44.30" font-family='"Liberation Mono", monospace' font-weight="normal" font-style="normal" font-size="11.83" fill="#111111" textLength="72.04" lengthAdjust="spacingAndGlyphs" xml:space="preserve" stroke="#111111" stroke-width="0.4">=PM_PWROK</text>
<text x="533.63" y="264.60" font-family='"Liberation Mono", monospace' font-weight="normal" font-style="normal" font-size="14.14" fill="#111111" textLength="105.71" lengthAdjust="spacingAndGlyphs" xml:space="preserve" stroke="#111111" stroke-width="0.4">TO VR_ON &amp; EC</text>
<text x="493.23" y="361.60" font-family='"Liberation Sans", sans-serif' font-weight="normal" font-style="normal" font-size="14.19" fill="#c8141e" textLength="107.59" lengthAdjust="spacingAndGlyphs" xml:space="preserve" stroke="#c8141e" stroke-width="0.2">GROUND 0 VOLT</text>
<text x="63.77" y="328.80" font-family='"Liberation Sans", sans-serif' font-weight="bold" font-style="italic" font-size="14.93" fill="#111111" textLength="16.53" lengthAdjust="spacingAndGlyphs" xml:space="preserve" stroke="#111111" stroke-width="0.5">ON</text>
<text transform="translate(254.76,205.66) rotate(-90)" font-family='"Liberation Sans", sans-serif' font-size="7.40" fill="#111" stroke="#111" stroke-width="0.35" textLength="12.61" lengthAdjust="spacingAndGlyphs">14</text>
<text transform="translate(254.87,280.69) rotate(-90)" font-family='"Liberation Sans", sans-serif' font-size="9.89" fill="#111" stroke="#111" stroke-width="0.35" textLength="8.29" lengthAdjust="spacingAndGlyphs">7</text>
<text transform="translate(676.67,85.91) rotate(-90)" font-family='"Liberation Sans", sans-serif' font-size="8.58" fill="#111" stroke="#111" stroke-width="0.35" textLength="12.93" lengthAdjust="spacingAndGlyphs">14</text>
<text transform="translate(677.05,160.25) rotate(-90)" font-family='"Liberation Sans", sans-serif' font-size="9.96" fill="#111" stroke="#111" stroke-width="0.35" textLength="7.23" lengthAdjust="spacingAndGlyphs">7</text>
<text transform="translate(933.78,98.73) rotate(-90)" font-family='"Liberation Sans", sans-serif' font-size="10.15" fill="#111" stroke="#111" stroke-width="0.35" textLength="13.28" lengthAdjust="spacingAndGlyphs">14</text>
<text transform="translate(933.20,173.12) rotate(-90)" font-family='"Liberation Sans", sans-serif' font-size="9.86" fill="#111" stroke="#111" stroke-width="0.35" textLength="6.48" lengthAdjust="spacingAndGlyphs">7</text>
<text transform="translate(1264.16,85.41) rotate(-90)" font-family='"Liberation Sans", sans-serif' font-size="10.02" fill="#111" stroke="#111" stroke-width="0.35" textLength="12.13" lengthAdjust="spacingAndGlyphs">14</text>
<text transform="translate(1262.94,160.71) rotate(-90)" font-family='"Liberation Sans", sans-serif' font-size="8.54" fill="#111" stroke="#111" stroke-width="0.35" textLength="7.31" lengthAdjust="spacingAndGlyphs">7</text>
</svg></body></html>
